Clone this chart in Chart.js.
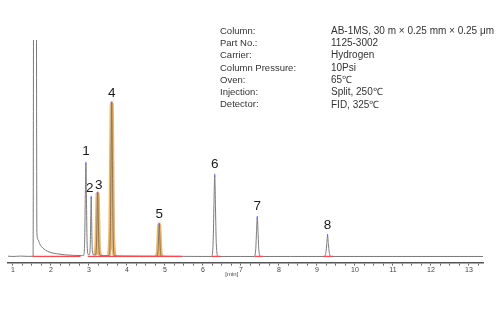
<!DOCTYPE html>
<html>
<head>
<meta charset="utf-8">
<script src="https://cdn.jsdelivr.net/npm/chart.js@4"></script>
<style>
html,body{margin:0;padding:0;background:#fff;}
#wrap{width:500px;height:309px;position:relative;}
</style>
</head>
<body>
<div id="wrap"><canvas id="c" width="500" height="309"></canvas></div>
<script>
// ---- data ----
const traceTime = [
  0.87, 1.00, 1.20, 1.40, 1.53, 1.55, 1.61, 1.63, 1.66, 1.70, 1.75, 1.82, 1.90, 2.00, 2.15, 2.35, 2.60, 2.80,
  2.86, 2.89, 2.905, 2.92, 2.935, 2.95, 2.98,
  3.01, 3.035, 3.048, 3.06, 3.072, 3.085, 3.11,
  3.17, 3.20, 3.215, 3.23, 3.245, 3.26, 3.29,
  3.45,
  3.53, 3.565, 3.583, 3.60, 3.617, 3.635, 3.67,
  3.90, 4.40,
  4.79, 4.82, 4.835, 4.85, 4.865, 4.88, 4.91,
  5.50,
  6.23, 6.27, 6.29, 6.31, 6.33, 6.35, 6.40,
  7.00,
  7.35, 7.39, 7.41, 7.43, 7.45, 7.47, 7.52,
  8.30,
  9.19, 9.235, 9.26, 9.28, 9.30, 9.325, 9.37,
  11.0, 13.37
];
const traceSignal = [
  0.4, 0.1, 0.5, 0.2, 0.3, 400, 400, 24, 17, 13, 10, 7.5, 5.5, 4, 2.8, 1.8, 1.2, 1.0,
  1.2, 20, 62, 93, 58, 16, 2,
  2, 12, 38, 59, 35, 10, 2,
  1.5, 14, 42, 63, 40, 12, 1.2,
  1.0,
  1.0, 30, 100, 153, 96, 26, 1.0,
  0.6, 0.4,
  0.4, 7, 21, 32, 20, 6, 0.4,
  0.2,
  0.1, 16, 52, 81, 50, 14, 0.1,
  0.1,
  0.1, 8, 25, 39, 24, 7, 0.1,
  0.1,
  0.1, 4, 13, 21, 13, 4, 0.1,
  0.1, 0.1
];
// peaks: label, retention time (min), apex height
const peakLabels = ['1', '2', '3', '4', '5', '6', '7', '8'];
const peakTimes  = [2.92, 3.06, 3.23, 3.60, 4.85, 6.31, 7.43, 9.28];
const peakHeights = [93, 59, 63, 153, 32, 81, 39, 21];
// highlighted (orange) peak windows
const highlightWindows = [[3.17, 3.29], [3.53, 3.67], [4.79, 4.91]];
// integration baseline (red) segments
const redSegments = [[1.52, 2.78], [2.97, 5.45], [6.23, 6.47], [7.36, 7.58], [9.17, 9.42]];
// axis
const xMin = 0.87, xMax = 13.37, xStep = 0.25;
// method info block
const infoLabels = ['Column:', 'Part No.:', 'Carrier:', 'Column Pressure:', 'Oven:', 'Injection:', 'Detector:'];
const infoValues = ['AB-1MS, 30 m \u00d7 0.25 mm \u00d7 0.25 \u03bcm', '1125-3002', 'Hydrogen', '10Psi', '65\u2103', 'Split, 250\u2103', 'FID, 325\u2103'];
const xUnit = '[min]';

// ---- build datasets ----
const tracePts = traceTime.map((t, i) => ({x: t, y: traceSignal[i]}));
const highlightSets = highlightWindows.map(w => ({
  data: tracePts.filter(p => p.x >= w[0] && p.x <= w[1]),
  borderColor: 'rgba(240,168,70,0.85)',
  borderWidth: 4,
  borderJoinStyle: 'bevel',
  borderCapStyle: 'butt',
  pointRadius: 0,
  cubicInterpolationMode: 'monotone',
  order: 5
}));
const redPts = [];
redSegments.forEach(s => { redPts.push({x: s[0], y: 0}, {x: s[1], y: 0}, {x: (s[1] + 0.001), y: null}); });
const apexPts = peakTimes.map((t, i) => ({x: t, y: peakHeights[i]}));

const labelPlugin = {
  id: 'labels',
  afterDatasetsDraw(chart) {
    const ctx = chart.ctx, xs = chart.scales.x, ys = chart.scales.y;
    ctx.save();
    // peak numbers
    ctx.fillStyle = '#1a1a1a';
    ctx.font = '13.5px "Liberation Sans", Arial, sans-serif';
    ctx.textAlign = 'center';
    ctx.textBaseline = 'middle';
    const dx = [0, -1.5, 1, 0, 0, 0, 0, 0];
    const dy = [-12, -9, -8, -10, -10, -11, -11, -10];
    peakTimes.forEach((t, i) => {
      ctx.fillText(peakLabels[i], xs.getPixelForValue(t) + dx[i], ys.getPixelForValue(peakHeights[i]) + dy[i]);
    });
    // unit
    ctx.font = '6px "Liberation Sans", Arial, sans-serif';
    ctx.fillStyle = '#444';
    ctx.fillText(xUnit, xs.getPixelForValue(6.76), 274);
    // info block
    ctx.fillStyle = '#333';
    ctx.textAlign = 'left';
    infoLabels.forEach((l, i) => {
      const y = 31 + i * 12.3;
      ctx.font = '9.5px "Liberation Sans", Arial, sans-serif';
      ctx.fillText(l, 220, y);
      ctx.font = '10px "Liberation Sans", Arial, sans-serif';
      ctx.fillText(infoValues[i], 331, y);
    });
    ctx.restore();
  }
};

new Chart(document.getElementById('c'), {
  type: 'line',
  data: {
    datasets: [
      ...highlightSets,
      {
        data: tracePts,
        borderColor: '#7a7a7a',
        borderWidth: 1,
        pointRadius: 0,
        cubicInterpolationMode: 'monotone',
        order: 3
      },
      {
        data: redPts,
        borderColor: '#e8505b',
        borderWidth: 1.5,
        pointRadius: 0,
        spanGaps: false,
        order: 2
      },
      {
        data: apexPts,
        showLine: false,
        pointStyle: 'line',
        rotation: 90,
        pointRadius: 1.5,
        borderColor: '#5a66ff',
        borderWidth: 1,
        order: 1
      }
    ]
  },
  options: {
    responsive: false,
    animation: false,
    events: [],
    layout: {padding: {left: 8, right: 17, top: 40, bottom: 35}},
    plugins: {legend: {display: false}, tooltip: {enabled: false}},
    scales: {
      x: {
        type: 'linear',
        min: xMin,
        max: xMax,
        afterBuildTicks(scale) {
          const ticks = [];
          for (let k = Math.ceil(xMin / xStep); k * xStep <= xMax + 1e-9; k++) ticks.push({value: k * xStep});
          scale.ticks = ticks;
        },
        ticks: {
          autoSkip: false,
          maxRotation: 0,
          padding: 0,
          color: '#444',
          font: {size: 7, family: '"Liberation Sans", Arial, sans-serif'},
          callback: v => (Math.abs(v - Math.round(v)) < 1e-6 ? String(Math.round(v)) : '')
        },
        grid: {display: true, drawOnChartArea: false, drawTicks: true, tickLength: 3, color: '#666', lineWidth: 1},
        border: {display: true, color: '#555', width: 1.6}
      },
      y: {
        type: 'linear',
        display: false,
        min: -6,
        max: 216
      }
    }
  },
  plugins: [labelPlugin]
});
</script>
</body>
</html>
